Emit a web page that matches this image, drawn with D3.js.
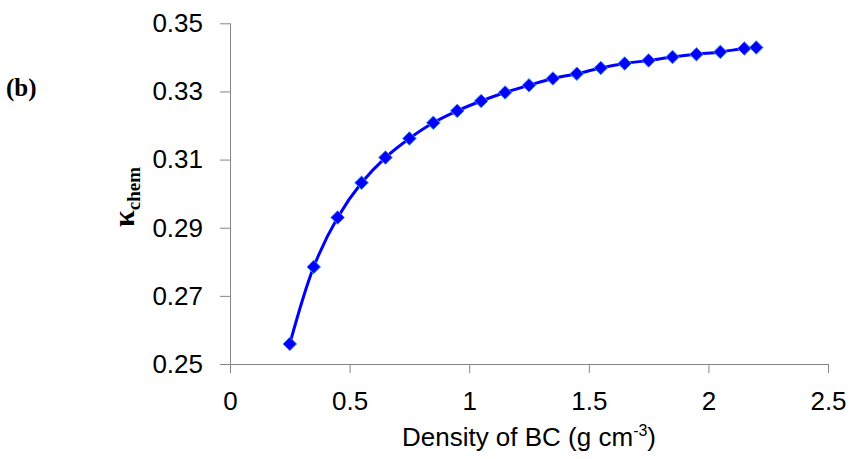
<!DOCTYPE html>
<html>
<head>
<meta charset="utf-8">
<script src="https://cdn.jsdelivr.net/npm/d3@7"></script>
<style>
  html, body { margin: 0; padding: 0; background: #fff; }
  svg { display: block; }
</style>
</head>
<body>
<svg id="chart" width="852" height="459"></svg>
<script>
// BC density (g cm^-3) and the chemical hygroscopicity parameter κ_chem
const density = [0.25, 0.35, 0.45, 0.55, 0.65, 0.75, 0.85, 0.95, 1.05, 1.15, 1.25,
                 1.35, 1.45, 1.55, 1.65, 1.75, 1.85, 1.95, 2.05, 2.15, 2.2];
const kappaChem = [0.2559, 0.2785, 0.2930, 0.3032, 0.3106, 0.3162, 0.3208, 0.3243,
                   0.3272, 0.3297, 0.3318, 0.3338, 0.3352, 0.3369, 0.3382, 0.3391,
                   0.3401, 0.3409, 0.3416, 0.3426, 0.3429];
const xTicks = [0, 0.5, 1, 1.5, 2, 2.5];
const yTicks = [0.25, 0.27, 0.29, 0.31, 0.33, 0.35];

const svg = d3.select("#chart");
const axisColor = "#868686";
const sans = "'Liberation Sans', Arial, sans-serif";
const serif = "'Liberation Serif', 'Times New Roman', serif";

const x = d3.scaleLinear().domain([0, 2.5]).range([230, 828]);
const y = d3.scaleLinear().domain([0.25, 0.35]).range([364, 23.3]);

// Y axis
const yAxis = svg.append("g")
  .attr("transform", `translate(${x(0)},0)`)
  .call(d3.axisLeft(y).tickValues(yTicks).tickFormat(d3.format(".2f"))
    .tickSize(10).tickPadding(17));

// X axis
const xAxis = svg.append("g")
  .attr("transform", `translate(0,${y(0.25)})`)
  .call(d3.axisBottom(x).tickValues(xTicks).tickFormat(d => String(d))
    .tickSize(9).tickPadding(18.5));

[yAxis, xAxis].forEach(g => {
  g.select(".domain").attr("stroke", axisColor).attr("stroke-width", 1);
  g.selectAll(".tick line").attr("stroke", axisColor).attr("stroke-width", 1);
  g.selectAll(".tick text")
    .attr("fill", "#000")
    .style("font-family", sans)
    .style("font-size", "26px");
});
// extend horizontal axis line to meet the lowest y tick
xAxis.select(".domain").attr("d", `M${x(0) - 10},0.5H${x(2.5)}`);
yAxis.select(".domain").attr("d", `M0.5,${y(0.35)}V${y(0.25)}`);

// Smoothed curve
const pts = density.map((d, i) => [d, kappaChem[i]]);
svg.append("path")
  .datum(pts)
  .attr("fill", "none")
  .attr("stroke", "#0000FF")
  .attr("stroke-width", 3)
  .attr("d", d3.line().x(d => x(d[0])).y(d => y(d[1])).curve(d3.curveCatmullRom.alpha(0.5)));

// Diamond markers
const r = 6.8;
svg.append("g").selectAll("path")
  .data(pts)
  .join("path")
  .attr("transform", d => `translate(${x(d[0])},${y(d[1])})`)
  .attr("d", `M0,${-r}L${r},0L0,${r}L${-r},0Z`)
  .attr("fill", "#0000FF")
  .attr("stroke", "#4a8ff0")
  .attr("stroke-width", 1);

// X axis title
const xt = svg.append("text")
  .attr("x", (x(0) + x(2.5)) / 2)
  .attr("y", 446)
  .attr("text-anchor", "middle")
  .style("font-family", sans)
  .style("font-size", "26px")
  .attr("fill", "#000");
xt.append("tspan").text("Density of BC (g cm");
xt.append("tspan").attr("dy", -10).style("font-size", "16px").text("-3");
xt.append("tspan").attr("dy", 10).text(")");

// Y axis title (rotated)
const yt = svg.append("text")
  .attr("transform", "translate(134,197) rotate(-90)")
  .attr("text-anchor", "middle")
  .style("font-family", serif)
  .style("font-weight", "bold")
  .attr("fill", "#000");
yt.append("tspan").style("font-size", "30px").text("κ");
yt.append("tspan").attr("dy", 6).style("font-size", "19px").text("chem");

// Panel label
svg.append("text")
  .attr("x", 6)
  .attr("y", 96)
  .style("font-family", serif)
  .style("font-weight", "bold")
  .style("font-size", "25px")
  .attr("fill", "#000")
  .text("(b)");
</script>
</body>
</html>
